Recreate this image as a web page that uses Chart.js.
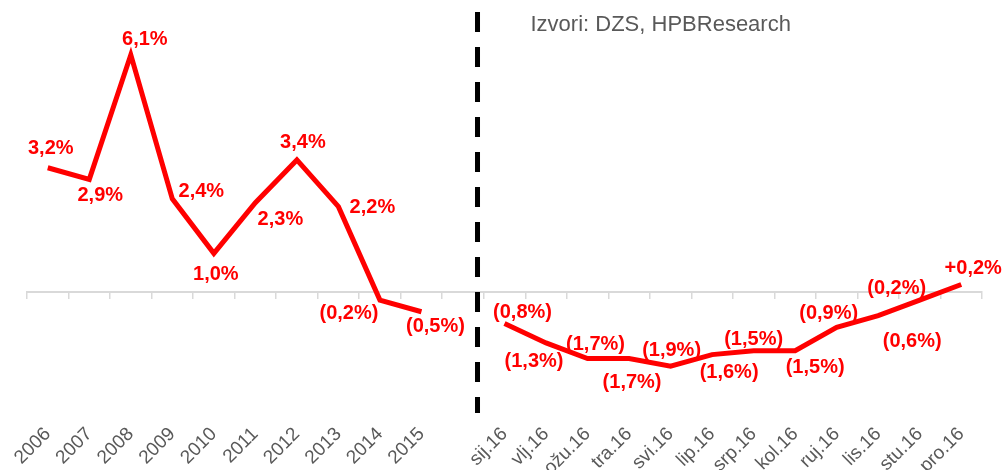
<!DOCTYPE html>
<html>
<head>
<meta charset="utf-8">
<script src="https://cdn.jsdelivr.net/npm/chart.js@4/dist/chart.umd.min.js"></script>
<style>
html, body { margin: 0; padding: 0; background: #fff; }
#wrap { width: 1003px; height: 470px; position: relative; }
</style>
</head>
<body>
<div id="wrap"><canvas id="chart"></canvas></div>
<script>
const years = ['2006', '2007', '2008', '2009', '2010', '2011', '2012', '2013', '2014', '2015'];
const months = ['sij.16', 'vlj.16', 'ožu.16', 'tra.16', 'svi.16', 'lip.16', 'srp.16', 'kol.16', 'ruj.16', 'lis.16', 'stu.16', 'pro.16'];
const yearValues = [3.2, 2.9, 6.1, 2.4, 1.0, 2.3, 3.4, 2.2, -0.2, -0.5];
const monthValues = [-0.8, -1.3, -1.7, -1.7, -1.9, -1.6, -1.5, -1.5, -0.9, -0.6, -0.2, 0.2];
const sourceNote = 'Izvori: DZS, HPBResearch';

// one empty slot between the yearly and the monthly part
const labels = [...years, '', ...months];
const values = [...yearValues, null, ...monthValues];

// where each value label sits relative to its point (dx, dy)
const labelOffsets = [
    [3, -19], [11, 16], [14, -15], [29, -7], [2, 21], [25, 17], [6, -17], [34, 1], [-31, 13], [14, 15],
    null,
    [18, -11], [-12, 19], [8, -14], [3, 24], [1, -16], [17, 18], [0, -11], [20, 17], [-8, -14], [34, 26], [-23, -12], [12, -16]
];

const FONT = '"Liberation Sans", Arial, sans-serif';

function formatValue(v, i) {
    const txt = Math.abs(v).toFixed(1).replace('.', ',') + '%';
    if (v < 0) return '(' + txt + ')';
    return (i > years.length ? '+' : '') + txt;
}

const valueLabels = {
    id: 'valueLabels',
    afterDatasetsDraw(chart) {
        const ctx = chart.ctx;
        const meta = chart.getDatasetMeta(0);
        ctx.save();
        ctx.font = 'bold 20px ' + FONT;
        ctx.fillStyle = '#ff0000';
        ctx.textAlign = 'center';
        ctx.textBaseline = 'middle';
        meta.data.forEach((pt, i) => {
            const v = values[i];
            if (v === null || !labelOffsets[i]) return;
            ctx.fillText(formatValue(v, i), pt.x + labelOffsets[i][0], pt.y + labelOffsets[i][1]);
        });
        ctx.restore();
    }
};

const divider = {
    id: 'divider',
    afterDatasetsDraw(chart) {
        const { ctx, chartArea, scales } = chart;
        const x = scales.x.getPixelForValue(years.length + 0.35);
        ctx.save();
        ctx.strokeStyle = '#000';
        ctx.lineWidth = 5;
        ctx.setLineDash([20, 15]);
        ctx.beginPath();
        ctx.moveTo(x, chartArea.top);
        ctx.lineTo(x, chartArea.bottom);
        ctx.stroke();
        ctx.setLineDash([]);
        ctx.font = '22px ' + FONT;
        ctx.fillStyle = '#595959';
        ctx.textAlign = 'left';
        ctx.textBaseline = 'middle';
        ctx.fillText(sourceNote, x + 53, chartArea.top + 13);
        ctx.restore();
    }
};

new Chart(document.getElementById('chart'), {
    type: 'line',
    data: {
        labels,
        datasets: [{
            data: values,
            borderColor: '#ff0000',
            borderWidth: 5,
            pointRadius: 0,
            tension: 0,
            spanGaps: false,
            fill: false
        }]
    },
    options: {
        responsive: true,
        maintainAspectRatio: false,
        animation: false,
        layout: { padding: { left: 27, right: 21, top: 12, bottom: 0 } },
        plugins: { legend: { display: false }, tooltip: { enabled: false } },
        scales: {
            x: {
                offset: true,
                grid: { display: false, drawTicks: false },
                border: { display: false },
                ticks: { autoSkip: false, maxRotation: 45, minRotation: 45, padding: 10, color: '#595959', font: { family: FONT, size: 19 } },
                afterFit: scale => { scale.height = 57; }
            },
            zero: {
                type: 'category',
                axis: 'x',
                position: { y: 0 },
                offset: true,
                grid: { offset: true, drawOnChartArea: false, drawTicks: true, tickLength: 6, color: '#d9d9d9', lineWidth: 1.5 },
                border: { color: '#d9d9d9', width: 2 },
                ticks: { display: false },
                afterFit: scale => { scale.height = 0; }
            },
            y: { display: false, min: -3.1, max: 7.2 }
        }
    },
    plugins: [valueLabels, divider]
});
</script>
</body>
</html>
